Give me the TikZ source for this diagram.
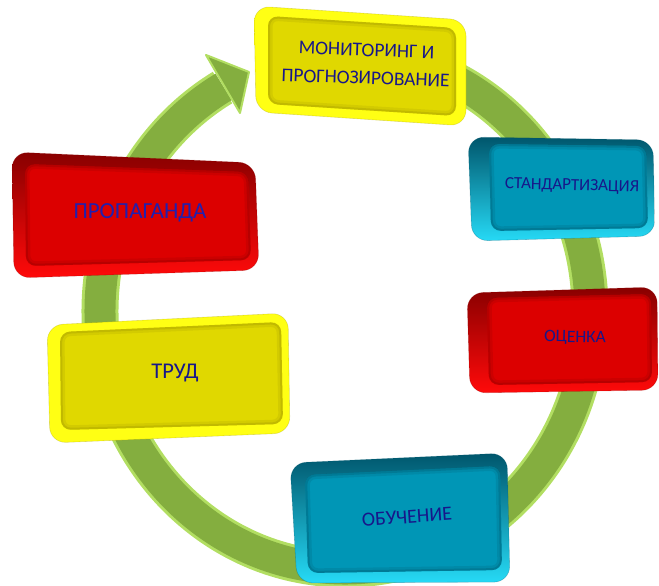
\documentclass[tikz,border=0pt]{standalone}
\usepackage{fontspec}
\setmainfont{Carlito}
\definecolor{ringg}{HTML}{84AE3F}
\definecolor{ringl}{HTML}{B2DE62}
\definecolor{ylb}{HTML}{FFFF14}
\definecolor{ylf}{HTML}{E0D800}
\definecolor{yld}{HTML}{9A9200}
\definecolor{rdb}{HTML}{FF0A0A}
\definecolor{rdf}{HTML}{DC0000}
\definecolor{rdd}{HTML}{880000}
\definecolor{cyb}{HTML}{26DAF6}
\definecolor{cyf}{HTML}{0096B6}
\definecolor{cyd}{HTML}{00566C}
\definecolor{txt}{HTML}{17178A}
\definecolor{txtr}{HTML}{2020B0}
\newcommand\bevbox[4]{%
  \shade[rounded corners=16pt, top color=#4, middle color=#3b, bottom color=#3b] #1;
  \draw[rounded corners=16pt, #3d, line width=0.6pt, opacity=.3] #1;
  \fill[#3f, rounded corners=10pt] #2;
  \begin{scope}
    \clip[rounded corners=10pt] #2;
    \draw[line width=9pt, #3d, opacity=.18, rounded corners=10pt] #2;
    \draw[line width=4pt, #3d, opacity=.3, rounded corners=10pt] #2;
  \end{scope}
}
\tikzset{lbl/.style={text=txt, align=center, inner sep=0pt}}
\begin{document}
\begin{tikzpicture}[x=1pt,y=-1pt]
\useasboundingbox (0,0) rectangle (659,586);
% ring
\coordinate (c) at (345,311);
\draw[line width=37pt, ringl] (c) ++(-85:245 and 258) arc[start angle=-85, end angle=240, x radius=245, y radius=258];
\draw[line width=31pt, ringg] (c) ++(-85:245 and 258) arc[start angle=-85, end angle=240.3, x radius=245, y radius=258];
\coordinate (w1) at (206,55);
\coordinate (tip) at (249,72);
\coordinate (w2) at (240,113);
\fill[ringg, draw=ringl, line width=2pt, line join=round] (w1) -- (tip) -- (w2) -- cycle;
% boxes
\bevbox{(254,6) -- (466,20) -- (466,126) -- (256,112) -- cycle}{(268,16) -- (456,28) -- (456,116) -- (268,104) -- cycle}{yl}{ylb}
\bevbox{(12,152) -- (255,163) -- (259,270) -- (14,278) -- cycle}{(25,164) -- (248,172) -- (251,260) -- (26,266) -- cycle}{rd}{rdd}
\bevbox{(468,137) -- (653,140) -- (655,236) -- (472,241) -- cycle}{(489,144) -- (646,146) -- (648,228) -- (491,231) -- cycle}{cy}{cyd}
\bevbox{(467,293) -- (657,287) -- (658,390) -- (470,393) -- cycle}{(487,298) -- (651,294) -- (652,382) -- (489,385) -- cycle}{rd}{rdd}
\bevbox{(290,463) -- (507,453) -- (510,582) -- (297,583) -- cycle}{(305,475) -- (500,466) -- (502,570) -- (308,573) -- cycle}{cy}{cyd}
\bevbox{(47,325) -- (288,313) -- (290,433) -- (50,443) -- cycle}{(60,332) -- (281,322) -- (283,424) -- (61,430) -- cycle}{yl}{ylb}
% labels
\node[lbl, rotate=-2, font=\fontsize{19.4}{28}\selectfont] (mon) at (366,64) {МОНИТОРИНГ И\\ПРОГНОЗИРОВАНИЕ};
\node[lbl, text=txtr, font=\fontsize{23}{26}\selectfont] (prop) at (140,213) {ПРОПАГАНДА};
\node[lbl, rotate=-1.5, font=\fontsize{17}{20}\selectfont] (std) at (572,186) {СТАНДАРТИЗАЦИЯ};
\node[lbl, rotate=-1, font=\fontsize{17.5}{20}\selectfont] (ots) at (575,338) {ОЦЕНКА};
\node[lbl, rotate=4, font=\fontsize{20}{22}\selectfont] (obu) at (407,517) {ОБУЧЕНИЕ};
\node[lbl, font=\fontsize{22.5}{25}\selectfont] (trud) at (175,373) {ТРУД};
\end{tikzpicture}
\end{document}
